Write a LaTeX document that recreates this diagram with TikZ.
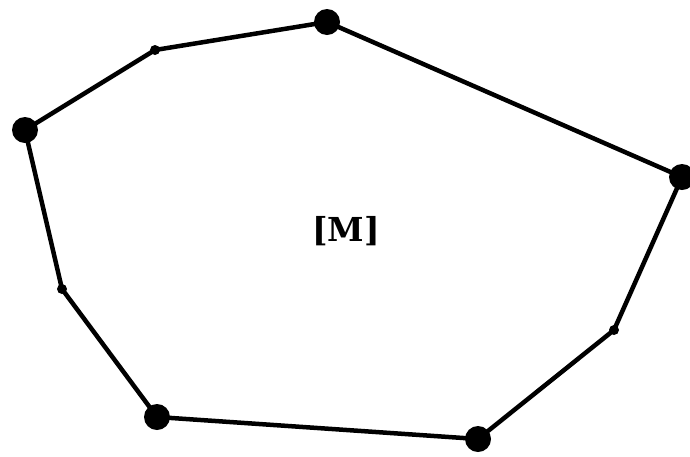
\documentclass[tikz,border=0pt]{standalone}
\usepackage{fontspec}
\newfontfamily\labelfont{DejaVu Serif}
\begin{document}
\begin{tikzpicture}[x=1pt,y=-1pt,
  big/.style={circle,fill=black,inner sep=0pt,minimum size=26pt},
  small/.style={circle,fill=black,inner sep=0pt,minimum size=10pt},
  edge/.style={line width=4.5pt,line join=round}]
\useasboundingbox (0,0) rectangle (690,456);
\node[big] (a) at (327,22) {};
\node[big] (b) at (682,177) {};
\node[small] (c) at (614,330) {};
\node[big] (d) at (478,439) {};
\node[big] (e) at (157,417) {};
\node[small] (f) at (62,289) {};
\node[big] (g) at (25,130) {};
\node[small] (h) at (155,50) {};
\draw[edge] (a.center) -- (b.center) -- (c.center) -- (d.center) -- (e.center) -- (f.center) -- (g.center) -- (h.center) -- cycle;
\node[anchor=base,font=\labelfont\bfseries\fontsize{33}{36}\selectfont] (m) at (346,241) {[M]};
\end{tikzpicture}
\end{document}
